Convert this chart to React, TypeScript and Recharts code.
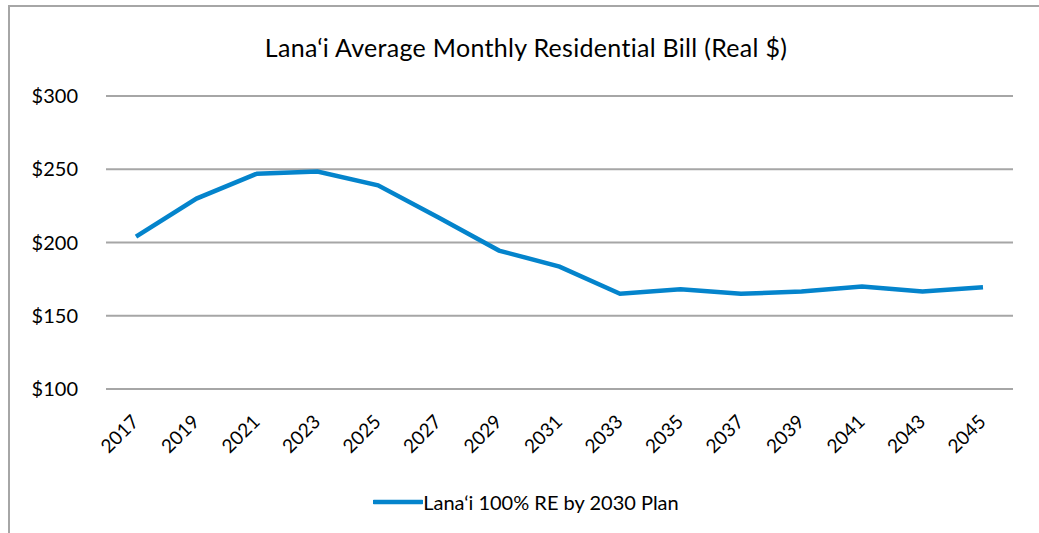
import { CartesianGrid, Legend, Line, LineChart, XAxis, YAxis } from "recharts"

const years = ["2017", "2019", "2021", "2023", "2025", "2027", "2029", "2031", "2033", "2035", "2037", "2039", "2041", "2043", "2045"]
const billValues = [204, 230, 247, 248.5, 239, 217, 194.5, 183.5, 165, 168, 165, 166.5, 170, 166.5, 169.5]
const yTicks = [100, 150, 200, 250, 300]

const SERIES_NAME = "Lana‘i 100% RE by 2030 Plan"
const FONT = "Lato, 'Open Sans', sans-serif"
const BLUE = "#0484cc"

const data = years.map((year, i) => ({ year, bill: billValues[i] }))

const YearTick = (props: any) => {
  const { x, y, payload } = props
  return (
    <g transform={`translate(${x + 4},${y + 26})`}>
      <text textAnchor="end" transform="rotate(-45)" fontSize={19} fill="#000" fontFamily={FONT}>
        {payload.value}
      </text>
    </g>
  )
}

const LegendContent = () => (
  <div style={{ display: "flex", justifyContent: "center", alignItems: "center", fontFamily: FONT, fontSize: 20, color: "#000" }}>
    <svg width={50} height={10}>
      <line x1={1} y1={5} x2={49} y2={5} stroke={BLUE} strokeWidth={4.5} strokeLinecap="round" />
    </svg>
    <span>{SERIES_NAME}</span>
  </div>
)

export default function App() {
  return (
    <div style={{ position: "absolute", left: 0, top: 0, width: 1039, height: 533, overflow: "hidden", background: "#fff" }}>
      <div
        style={{
          position: "absolute",
          left: 8,
          top: 5,
          width: 1100,
          height: 600,
          borderLeft: "2px solid #a6a6a6",
          borderTop: "2px solid #a6a6a6",
        }}
      />
      <div
        style={{
          position: "absolute",
          left: 0,
          top: 32,
          width: 1052,
          textAlign: "center",
          fontFamily: FONT,
          fontSize: 25,
          letterSpacing: 0.3,
          lineHeight: "30px",
          color: "#000",
        }}
      >
        Lana‘i Average Monthly Residential Bill (Real $)
      </div>
      <div style={{ position: "absolute", left: 0, top: 0 }}>
        <LineChart width={1039} height={533} data={data} margin={{ top: 96, right: 26, left: 0, bottom: 30 }}>
          <CartesianGrid vertical={false} stroke="#a6a6a6" strokeWidth={2} />
          <XAxis
            dataKey="year"
            interval={0}
            axisLine={false}
            tickLine={false}
            tick={<YearTick />}
            height={90}
            padding={{ left: 30, right: 30 }}
          />
          <YAxis
            domain={[100, 300]}
            ticks={yTicks}
            width={106}
            axisLine={false}
            tickLine={false}
            tickSize={0}
            tickMargin={28}
            tickFormatter={(v: number) => `$${v}`}
            tick={{ fontSize: 20, fill: "#000", fontFamily: FONT }}
          />
          <Legend content={<LegendContent />} wrapperStyle={{ top: 490, left: 0, width: 1052 }} />
          <Line
            type="linear"
            dataKey="bill"
            name={SERIES_NAME}
            stroke={BLUE}
            strokeWidth={4.5}
            dot={false}
            activeDot={false}
            isAnimationActive={false}
          />
        </LineChart>
      </div>
    </div>
  )
}
